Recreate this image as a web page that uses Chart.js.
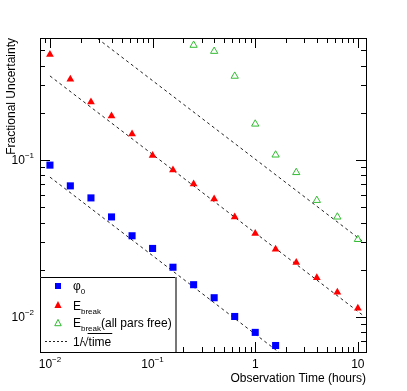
<!DOCTYPE html>
<html>
<head>
<meta charset="utf-8">
<script src="https://cdn.jsdelivr.net/npm/chart.js@4.4.1/dist/chart.umd.min.js"></script>
<style>
  html, body { margin: 0; padding: 0; background: #fff; }
  #wrap { width: 407px; height: 391px; }
</style>
</head>
<body>
<div id="wrap"><canvas id="chart" width="407" height="391"></canvas></div>
<script>
// observation times (hours)
const times = [0.01, 0.0158, 0.0251, 0.0398, 0.0631, 0.1, 0.158, 0.251, 0.398, 0.631, 1, 1.58, 2.51, 3.98, 6.31, 10];
const phi0 = [0.093, 0.0686, 0.0575, 0.0435, 0.033, 0.0274, 0.0208, 0.0161, 0.0133, 0.0101, 0.0080, 0.0066];
const eBreak = [0.471, 0.328, 0.235, 0.191, 0.147, 0.107, 0.0867, 0.0706, 0.0565, 0.0435, 0.0341, 0.0271, 0.0223, 0.0178, 0.0144, 0.0114];
const freeTimes = [0.251, 0.398, 0.631, 1, 1.58, 2.51, 3.98, 6.31, 10];
const eBreakFree = [0.54, 0.494, 0.343, 0.170, 0.108, 0.0835, 0.0555, 0.0435, 0.0313];

// 1/sqrt(time) reference lines, end points
const lineTimes = [0.01, 11];
const linePhi0 = [0.078, 0.00235];
const lineBreak = [0.344, 0.01037];
const lineFree = [1.015, 0.0306];

const xTickLabels = [[0.01, '10', '\u22122'], [0.1, '10', '\u22121'], [1, '1', ''], [10, '10', '']];
const yTickLabels = [[0.01, '10', '\u22122'], [0.1, '10', '\u22121']];

const FONT = '"Liberation Sans", Arial, sans-serif';
const GREEN = '#33bb33';

const pts = (xs, ys) => ys.map((y, i) => ({ x: xs[i], y: y }));

function dashed(data) {
    return {
        type: 'line',
        data: data,
        borderColor: '#222',
        borderWidth: 1,
        borderDash: [3, 3],
        pointRadius: 0,
        fill: false,
        order: 5
    };
}

function drawPow(ctx, base, exp, x, y, align) {
    ctx.font = '12px ' + FONT;
    const bw = ctx.measureText(base).width;
    ctx.font = '8px ' + FONT;
    const ew = exp ? ctx.measureText(exp).width : 0;
    const total = bw + ew;
    let x0 = x;
    if (align === 'center') x0 = x - total / 2;
    if (align === 'right') x0 = x - total;
    ctx.textAlign = 'left';
    ctx.textBaseline = 'alphabetic';
    ctx.font = '12px ' + FONT;
    ctx.fillText(base, x0, y);
    if (exp) {
        ctx.font = '8px ' + FONT;
        ctx.fillText(exp, x0 + bw, y - 6);
    }
}

function drawSub(ctx, main, sub, x, y, rest) {
    ctx.font = '12px ' + FONT;
    ctx.fillText(main, x, y);
    let cx = x + ctx.measureText(main).width;
    ctx.font = '8px ' + FONT;
    ctx.fillText(sub, cx, y + 4);
    cx += ctx.measureText(sub).width;
    if (rest) {
        ctx.font = '12px ' + FONT;
        ctx.fillText(rest, cx, y);
    }
}

function triangle(ctx, x, y, r) {
    ctx.beginPath();
    ctx.moveTo(x, y - r);
    ctx.lineTo(x + r * 0.9, y + r * 0.75);
    ctx.lineTo(x - r * 0.9, y + r * 0.75);
    ctx.closePath();
}

const rootFrame = {
    id: 'rootFrame',
    afterDraw(chart) {
        const ctx = chart.ctx;
        const xs = chart.scales.x, ys = chart.scales.y;
        const a = chart.chartArea;
        ctx.save();
        ctx.strokeStyle = '#000';
        ctx.lineWidth = 1;

        // ticks (inside, on all four sides)
        ctx.beginPath();
        for (let d = -3; d <= 1; d++) {
            for (let m = 1; m <= 9; m++) {
                const v = m * Math.pow(10, d);
                if (v >= xs.min && v <= xs.max) {
                    const px = Math.round(xs.getPixelForValue(v)) + 0.5;
                    const len = m === 1 ? 10 : 5;
                    ctx.moveTo(px, a.bottom); ctx.lineTo(px, a.bottom - len);
                    ctx.moveTo(px, a.top); ctx.lineTo(px, a.top + len);
                }
                if (v >= ys.min && v <= ys.max) {
                    const py = Math.round(ys.getPixelForValue(v)) + 0.5;
                    const len = m === 1 ? 10 : 5;
                    ctx.moveTo(a.left, py); ctx.lineTo(a.left + len, py);
                    ctx.moveTo(a.right, py); ctx.lineTo(a.right - len, py);
                }
            }
        }
        ctx.stroke();

        // frame
        ctx.strokeRect(Math.round(a.left) + 0.5, Math.round(a.top) + 0.5,
            Math.round(a.right - a.left), Math.round(a.bottom - a.top));

        // tick labels
        ctx.fillStyle = '#000';
        xTickLabels.forEach(([v, b, e]) => drawPow(ctx, b, e, xs.getPixelForValue(v), a.bottom + 16, 'center'));
        yTickLabels.forEach(([v, b, e]) => drawPow(ctx, b, e, a.left - 6, ys.getPixelForValue(v) + 4, 'right'));

        // axis titles
        ctx.font = '12px ' + FONT;
        ctx.textAlign = 'right';
        ctx.fillText('Observation Time (hours)', a.right, a.bottom + 30);
        ctx.save();
        ctx.translate(15, a.top);
        ctx.rotate(-Math.PI / 2);
        ctx.textAlign = 'right';
        ctx.fillText('Fractional Uncertainty', 0, 0);
        ctx.restore();

        // legend box
        const lx = a.left, ly = 277, lw = 135, lh = a.bottom - 277;
        ctx.fillStyle = '#fff';
        ctx.fillRect(lx, ly, lw, lh);
        ctx.strokeStyle = '#000';
        ctx.beginPath();
        ctx.moveTo(lx + 0.5, a.bottom); ctx.lineTo(lx + 0.5, ly + 0.5);
        ctx.lineTo(lx + lw, ly + 0.5);
        ctx.stroke();
        ctx.strokeStyle = '#777';
        ctx.lineWidth = 2;
        ctx.beginPath();
        ctx.moveTo(lx + lw + 1, ly); ctx.lineTo(lx + lw + 1, a.bottom);
        ctx.stroke();
        ctx.lineWidth = 1;

        const mx = 58, tx = 73;
        ctx.fillStyle = '#0000ff';
        ctx.fillRect(mx - 3, 283, 6, 6);
        ctx.fillStyle = '#ff0000';
        triangle(ctx, mx, 305, 4);
        ctx.fill();
        ctx.strokeStyle = GREEN;
        triangle(ctx, mx, 323, 3.6);
        ctx.stroke();
        ctx.strokeStyle = '#222';
        ctx.setLineDash([2, 2]);
        ctx.beginPath();
        ctx.moveTo(45, 341.5); ctx.lineTo(69, 341.5);
        ctx.stroke();
        ctx.setLineDash([]);

        ctx.fillStyle = '#000';
        ctx.textAlign = 'left';
        ctx.textBaseline = 'alphabetic';
        drawSub(ctx, '\u03c6', '0', tx, 290);
        drawSub(ctx, 'E', 'break', tx, 309.5);
        drawSub(ctx, 'E', 'break', tx, 327, '(all pars free)');
        ctx.font = '12px ' + FONT;
        ctx.fillText('1/', tx, 345.5);
        let cx = tx + ctx.measureText('1/').width;
        ctx.fillText('\u221a', cx - 1, 345.5);
        cx += ctx.measureText('\u221a').width - 1;
        ctx.strokeStyle = '#000';
        ctx.beginPath();
        ctx.moveTo(cx - 1, 333.5);
        ctx.lineTo(cx + ctx.measureText('time').width + 1, 333.5);
        ctx.stroke();
        ctx.fillText('time', cx, 345.5);
        ctx.restore();
    }
};

new Chart(document.getElementById('chart'), {
    type: 'scatter',
    data: {
        datasets: [
            {
                label: 'phi0',
                data: pts(times, phi0),
                pointStyle: 'rect',
                pointRadius: 5,
                backgroundColor: '#0000ff',
                borderColor: '#0000ff',
                borderWidth: 0,
                order: 1
            },
            {
                label: 'Ebreak',
                data: pts(times, eBreak),
                pointStyle: 'triangle',
                pointRadius: 4.5,
                backgroundColor: '#ff0000',
                borderColor: '#ff0000',
                borderWidth: 0,
                order: 1
            },
            {
                label: 'Ebreak free',
                data: pts(freeTimes, eBreakFree),
                pointStyle: 'triangle',
                pointRadius: 4.2,
                backgroundColor: 'rgba(0,0,0,0)',
                borderColor: GREEN,
                borderWidth: 1,
                order: 1
            },
            dashed(pts(lineTimes, linePhi0)),
            dashed(pts(lineTimes, lineBreak)),
            dashed(pts(lineTimes, lineFree))
        ]
    },
    options: {
        responsive: false,
        animation: false,
        events: [],
        layout: { padding: { left: 40, right: 41, top: 38, bottom: 39 } },
        plugins: { legend: { display: false }, tooltip: { enabled: false } },
        scales: {
            x: { type: 'logarithmic', min: 0.008, max: 12, bounds: 'data', display: false },
            y: { type: 'logarithmic', min: 0.006, max: 0.6, bounds: 'data', display: false }
        }
    },
    plugins: [rootFrame]
});
</script>
</body>
</html>
